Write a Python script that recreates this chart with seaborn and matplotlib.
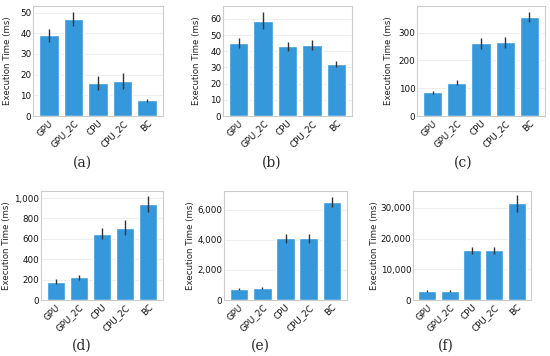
import numpy as np
import pandas as pd
import matplotlib
matplotlib.use("Agg")
import matplotlib.pyplot as plt
import matplotlib.ticker as mticker
import seaborn as sns

# Categories shared by all panels
labels = ["GPU", "GPU_2C", "CPU", "CPU_2C", "BC"]

# Mean execution times (ms) and error bar half-widths per panel
mean_a = [39, 47, 16, 17, 7.5]
err_a = [3, 3.5, 3.5, 3.7, 0.7]
mean_b = [45, 59, 43, 44, 32]
err_b = [3, 5, 3, 3, 2]
mean_c = [85, 120, 262, 265, 358]
err_c = [6, 9, 20, 20, 18]
mean_d = [180, 222, 652, 710, 940]
err_d = [25, 25, 50, 70, 80]
mean_e = [720, 780, 4100, 4100, 6500]
err_e = [60, 70, 300, 300, 350]
mean_f = [2800, 2800, 16200, 16200, 31500]
err_f = [300, 300, 1200, 1200, 2700]

captions = ["(a)", "(b)", "(c)", "(d)", "(e)", "(f)"]
ylims = [53.2, 68, 396, 1069, 7240, 35500]
yticks = [
    [0, 10, 20, 30, 40, 50],
    [0, 10, 20, 30, 40, 50, 60],
    [0, 100, 200, 300],
    [0, 200, 400, 600, 800, 1000],
    [0, 2000, 4000, 6000],
    [0, 10000, 20000, 30000],
]

panels = [(mean_a, err_a), (mean_b, err_b), (mean_c, err_c),
          (mean_d, err_d), (mean_e, err_e), (mean_f, err_f)]

# axes boxes in pixels: left, right, top, bottom
boxes = [
    (33, 163, 6, 116),
    (223, 352, 6, 116),
    (417, 545, 6, 116),
    (41, 163, 191, 300),
    (224, 347, 191, 300),
    (413, 531, 191, 300),
]
# centre x of the rotated y label, in pixels
ylabel_x = [9, 197, 390, 8, 191, 376]
caption_pos = [(82, 163), (272, 163), (463, 163), (82, 346), (260, 346), (446, 346)]

W, H = 550, 356
sns.set_style("white")
plt.rcParams["font.family"] = ["DejaVu Sans"]

fig = plt.figure(figsize=(W / 100, H / 100), dpi=100)
bar_color = "#3498db"

for i, (means, errs) in enumerate(panels):
    l, r, t, b = boxes[i]
    ax = fig.add_axes([l / W, 1 - b / H, (r - l) / W, (b - t) / H])
    df = pd.DataFrame({"config": labels, "time": means})
    sns.barplot(data=df, x="config", y="time", color=bar_color, saturation=1,
                width=0.8, errorbar=None, ax=ax, zorder=2)
    ax.errorbar(np.arange(len(labels)), means, yerr=errs, fmt="none",
                ecolor="#333333", elinewidth=1.0, capsize=0, zorder=3)
    ax.set_ylim(0, ylims[i])
    ax.set_yticks(yticks[i])
    ax.yaxis.set_major_formatter(mticker.FuncFormatter(lambda v, p: f"{int(v):,}"))
    ax.grid(axis="y", color="#eeeeee", linewidth=0.8, zorder=0)
    ax.set_axisbelow(True)
    for s in ax.spines.values():
        s.set_color("#cccccc")
        s.set_linewidth(0.8)
    ax.tick_params(axis="both", length=0, labelsize=6.3, labelcolor="#111111")
    ax.tick_params(axis="y", pad=1.2)
    ax.tick_params(axis="x", pad=2)
    plt.setp(ax.get_xticklabels(), rotation=45, ha="right", rotation_mode="anchor")
    ax.set_xlabel("")
    ax.set_ylabel("Execution Time (ms)", fontsize=6.2, color="#222222")
    ax.yaxis.set_label_coords((ylabel_x[i] + 3.5 - l) / (r - l), 0.5)
    cx, cy = caption_pos[i]
    fig.text(cx / W, 1 - cy / H, captions[i], ha="center", va="center",
             fontsize=10, family=["DejaVu Serif"])

fig.savefig("out.png", dpi=100, facecolor="white")
